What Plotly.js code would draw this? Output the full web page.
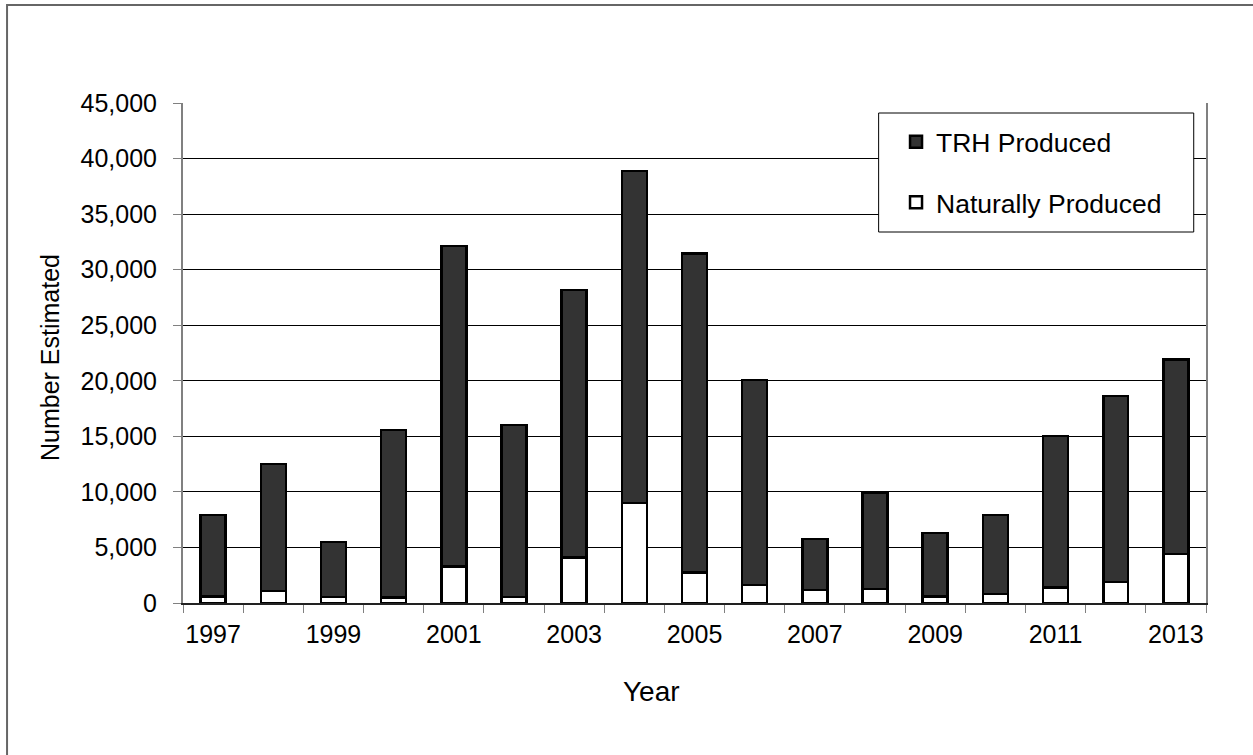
<!DOCTYPE html>
<html>
<head>
<meta charset="utf-8">
<script src="https://cdn.plot.ly/plotly-3.0.1.min.js"></script>
<style>html,body{margin:0;padding:0;background:#fff;}#chart{width:1253px;height:755px;}</style>
</head>
<body>
<div id="chart"></div>
<script>
const years = ['1997','1998','1999','2000','2001','2002','2003','2004','2005','2006','2007','2008','2009','2010','2011','2012','2013'];
const naturalProduced = [600, 1100, 550, 500, 3300, 550, 4100, 9000, 2750, 1600, 1150, 1250, 600, 800, 1400, 1900, 4400];
const trhProduced = [7300, 11400, 4950, 15050, 28850, 15450, 24050, 29900, 28700, 18450, 4600, 8700, 5700, 7100, 13650, 16750, 17500];
const tickLabels = years.map((y, i) => (i % 2 === 0 ? y : ''));

const FONT = 'Liberation Sans, Arial, sans-serif';

const traces = [
  {
    type: 'bar', name: 'Naturally Produced', x: years, y: naturalProduced,
    legendgroup: 'nat', legendrank: 2,
    marker: {color: '#ffffff', line: {color: '#000000', width: 2.5}},
    width: 0.415
  },
  {
    type: 'bar', name: 'TRH Produced', x: years, y: trhProduced,
    legendgroup: 'trh', legendrank: 1,
    marker: {color: '#333333', line: {color: '#000000', width: 2.5}},
    width: 0.415
  }
];

const layout = {
  width: 1253, height: 755,
  margin: {l: 183, r: 47, t: 103, b: 152},
  paper_bgcolor: '#ffffff', plot_bgcolor: '#ffffff',
  barmode: 'stack',
  font: {family: FONT, size: 25, color: '#000'},
  showlegend: true,
  legend: {
    x: 0.697, y: 0.97, xanchor: 'left', yanchor: 'top',
    bgcolor: 'rgba(0,0,0,0)', borderwidth: 0,
    traceorder: 'grouped', tracegroupgap: 23,
    font: {family: FONT, size: 26.5, color: '#000'}
  },
  xaxis: {
    type: 'category',
    tickvals: years, ticktext: tickLabels,
    tickson: 'boundaries', tickangle: 0,
    ticks: 'outside', ticklen: 8, tickcolor: '#808080', tickwidth: 1,
    showline: true, linecolor: '#222', linewidth: 1.5,
    showgrid: false, zeroline: false,
    ticklabelstandoff: 8,
    tickfont: {family: FONT, size: 25, color: '#000'}
  },
  yaxis: {
    range: [0, 45000], dtick: 5000, tick0: 0,
    tickformat: ',d',
    ticks: 'outside', ticklen: 8, tickcolor: '#808080', tickwidth: 1,
    showline: true, linecolor: '#808080', linewidth: 2, mirror: true,
    showgrid: true, gridcolor: '#000000', gridwidth: 1,
    zeroline: false,
    ticklabelstandoff: 11,
    tickfont: {family: FONT, size: 25, color: '#000'}
  },
  shapes: [
    {type: 'rect', xref: 'paper', yref: 'paper', x0: -0.172, x1: 1.5, y0: 1.196, y1: -0.8,
     line: {color: '#666666', width: 2}, fillcolor: 'rgba(0,0,0,0)', layer: 'below'},
    {type: 'rect', xref: 'paper', yref: 'paper', x0: 0.680, x1: 0.988, y0: 0.98, y1: 0.742,
     line: {color: '#000000', width: 1}, fillcolor: '#ffffff', layer: 'above'}
  ],
  annotations: [
    {text: 'Number Estimated', xref: 'paper', yref: 'paper', x: -0.130, y: 0.49,
     xanchor: 'center', yanchor: 'middle', textangle: -90, showarrow: false,
     font: {family: FONT, size: 25, color: '#000'}},
    {text: 'Year', xref: 'paper', yref: 'paper', x: 0.4575, y: -0.176,
     xanchor: 'center', yanchor: 'middle', showarrow: false,
     font: {family: FONT, size: 28, color: '#000'}}
  ]
};

Plotly.newPlot('chart', traces, layout, {displayModeBar: false, staticPlot: true});
</script>
</body>
</html>
